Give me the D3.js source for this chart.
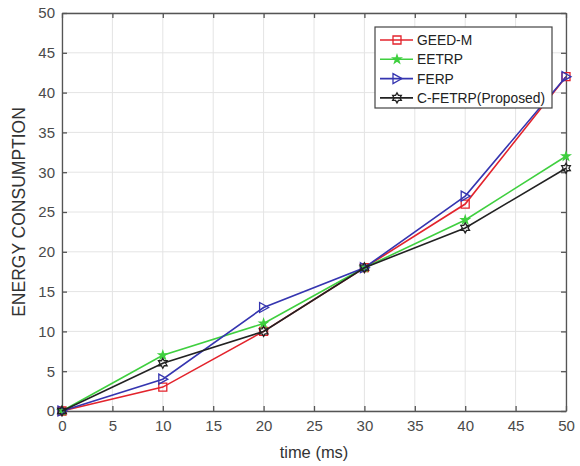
<!DOCTYPE html>
<html>
<head>
<meta charset="utf-8">
<script src="https://cdn.jsdelivr.net/npm/d3@7"></script>
<style>
  body { margin: 0; background: #fff; }
  text { font-family: "Liberation Sans", Arial, sans-serif; }
</style>
</head>
<body>
<div id="main-div"></div>
<script>
// chart data
let times = [0, 10, 20, 30, 40, 50]
let geedM = [0, 3, 10, 18, 26, 42]
let eetrp = [0, 7, 11, 18, 24, 32]
let ferp = [0, 4, 13, 18, 27, 42]
let cfetrp = [0, 6, 10, 18, 23, 30.5]
let xTicks = [0, 5, 10, 15, 20, 25, 30, 35, 40, 45, 50]
let yTicks = [0, 5, 10, 15, 20, 25, 30, 35, 40, 45, 50]

let names = ["GEED-M", "EETRP", "FERP", "C-FETRP(Proposed)"]
let colors = ["#e3232c", "#3fcf3f", "#3535b0", "#222222"]
let shapes = ["square", "star", "triangle", "hexagram"]
let values = [geedM, eetrp, ferp, cfetrp]

let width = 580
let height = 466
let margin = {top: 13, right: 14, bottom: 55, left: 62}

let svg = d3.select("#main-div")
  .append("svg")
  .attr("width", width)
  .attr("height", height)

let x = d3.scaleLinear()
  .domain([0, 50])
  .range([margin.left, width - margin.right])

let y = d3.scaleLinear()
  .domain([0, 50])
  .range([height - margin.bottom, margin.top])

// grid
svg.append("g")
  .selectAll("line")
  .data(xTicks)
  .join("line")
  .attr("x1", d => x(d)).attr("x2", d => x(d))
  .attr("y1", y(0)).attr("y2", y(50))
  .attr("stroke", "#e4e4e4")
  .attr("stroke-width", 1)

svg.append("g")
  .selectAll("line")
  .data(yTicks)
  .join("line")
  .attr("y1", d => y(d)).attr("y2", d => y(d))
  .attr("x1", x(0)).attr("x2", x(50))
  .attr("stroke", "#e4e4e4")
  .attr("stroke-width", 1)

// axes, MATLAB box style with inward ticks
let axisColor = "#555"
let fmt = d3.format("d")

let xAxis = g => g
  .attr("transform", `translate(0,${y(0)})`)
  .call(d3.axisBottom(x).tickValues(xTicks).tickFormat(fmt).tickSizeInner(-5).tickSizeOuter(0).tickPadding(9))

let xAxisTop = g => g
  .attr("transform", `translate(0,${y(50)})`)
  .call(d3.axisTop(x).tickValues(xTicks).tickFormat("").tickSizeInner(-5).tickSizeOuter(0))

let yAxis = g => g
  .attr("transform", `translate(${x(0)},0)`)
  .call(d3.axisLeft(y).tickValues(yTicks).tickFormat(fmt).tickSizeInner(-5).tickSizeOuter(0).tickPadding(7))

let yAxisRight = g => g
  .attr("transform", `translate(${x(50)},0)`)
  .call(d3.axisRight(y).tickValues(yTicks).tickFormat("").tickSizeInner(-5).tickSizeOuter(0))

for (let ax of [xAxis, xAxisTop, yAxis, yAxisRight]) {
  let g = svg.append("g").call(ax)
  g.selectAll("path, line").attr("stroke", axisColor).attr("stroke-width", 1.3)
  g.selectAll("text").attr("fill", "#4a4a4a").style("font-size", "15px")
}

svg.append("text")
  .attr("x", (x(0) + x(50)) / 2)
  .attr("y", 458)
  .attr("text-anchor", "middle")
  .attr("fill", "#333")
  .style("font-size", "16.5px")
  .text("time (ms)")

svg.append("text")
  .attr("transform", `translate(25,${(y(0) + y(50)) / 2}) rotate(-90)`)
  .attr("text-anchor", "middle")
  .attr("fill", "#333")
  .style("font-size", "17.5px")
  .text("ENERGY CONSUMPTION")

// marker shapes
function markerPath(shape) {
  if (shape === "square") return "M-4,-4L4,-4L4,4L-4,4Z"
  if (shape === "triangle") return "M-4,-5L5,0L-4,5Z"
  if (shape === "star") return d3.symbol(d3.symbolStar, 20)()
  // hexagram: two overlapping triangles
  let pts = []
  for (let i = 0; i < 12; i++) {
    let r = i % 2 === 0 ? 5 : 2.9
    let a = -Math.PI / 2 + i * Math.PI / 6
    pts.push([r * Math.cos(a), r * Math.sin(a)])
  }
  return "M" + pts.join("L") + "Z"
}

let line = d3.line()
  .x((d, i) => x(times[i]))
  .y(d => y(d))

values.forEach((vals, k) => {
  svg.append("path")
    .datum(vals)
    .attr("fill", "none")
    .attr("stroke", colors[k])
    .attr("stroke-width", 1.6)
    .attr("d", line)

  svg.append("g")
    .selectAll("path")
    .data(vals)
    .join("path")
    .attr("transform", (d, i) => `translate(${x(times[i])},${y(d)})`)
    .attr("d", markerPath(shapes[k]))
    .attr("fill", shapes[k] === "star" ? colors[k] : "none")
    .attr("stroke", colors[k])
    .attr("stroke-width", 1.3)
})

// legend
let legend = svg.append("g").attr("transform", "translate(375,27)")

legend.append("rect")
  .attr("width", 177)
  .attr("height", 81)
  .attr("fill", "#fff")
  .attr("stroke", "#444")
  .attr("stroke-width", 1.2)

names.forEach((name, k) => {
  let ly = 13 + k * 19.3
  legend.append("line")
    .attr("x1", 5).attr("x2", 38)
    .attr("y1", ly).attr("y2", ly)
    .attr("stroke", colors[k])
    .attr("stroke-width", 1.6)
  legend.append("path")
    .attr("transform", `translate(22,${ly})`)
    .attr("d", markerPath(shapes[k]))
    .attr("fill", shapes[k] === "star" ? colors[k] : "none")
    .attr("stroke", colors[k])
    .attr("stroke-width", 1.3)
  legend.append("text")
    .attr("x", 42)
    .attr("y", ly)
    .attr("dy", "0.36em")
    .attr("fill", "#222")
    .style("font-size", "13.8px")
    .text(name)
})
</script>
</body>
</html>
